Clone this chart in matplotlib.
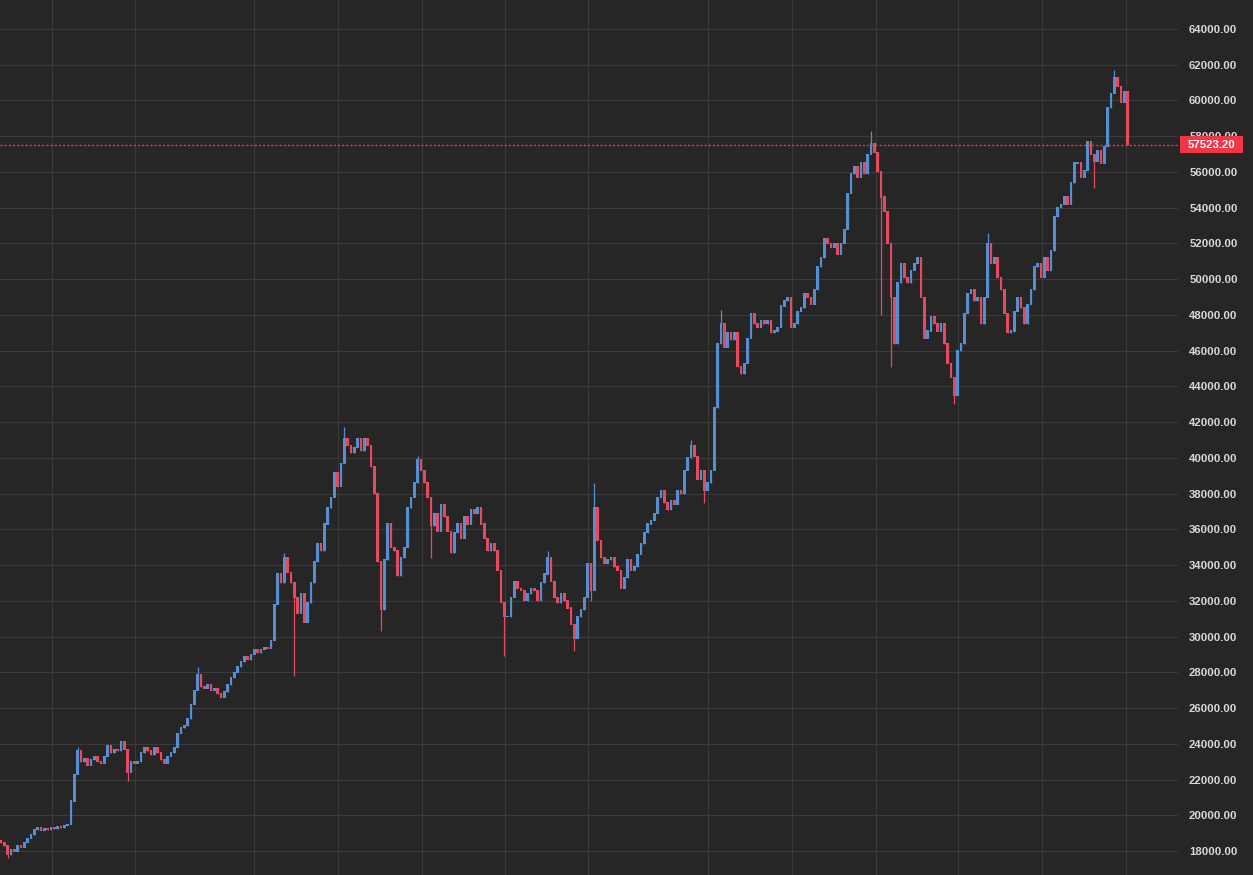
import numpy as np
import matplotlib.pyplot as plt
from matplotlib.patches import Rectangle
from matplotlib.transforms import blended_transform_factory

# closing prices, one per candle (open = previous close)
closes = [
    18450, 18300, 17800, 18100, 18000, 18300, 18200, 18500, 18700, 18900,
    19200, 19300, 19150, 19250, 19200, 19300, 19250, 19350, 19300, 19450,
    19500, 20800, 22300, 23600, 23000, 23200, 22800, 23100, 23300, 23000,
    22900, 23300, 23900, 23500, 23700, 23600, 24100, 23700, 22400, 23000,
    22900, 23000, 23500, 23800, 23600, 23400, 23800, 23500, 23100, 22900,
    23300, 23500, 23800, 24600, 24900, 25000, 25400, 26200, 27000, 27900,
    27200, 27100, 27300, 27000, 27100, 26800, 26600, 26900, 27300, 27700,
    28000, 28300, 28600, 28900, 28700, 29000, 29250, 29100, 29300, 29400,
    29350, 29800, 31800, 33500, 33000, 34400, 33600, 33000, 32200, 31300,
    32400, 30800, 31900, 33000, 34200, 35200, 34800, 36300, 37200, 37800,
    39200, 38400, 39700, 41100, 40700, 40300, 40600, 41100, 40400, 41100,
    40700, 39500, 38000, 34200, 31500, 34300, 36300, 35000, 34800, 33400,
    34400, 35000, 37200, 37800, 38600, 39900, 39300, 38600, 37800, 36200,
    36900, 35900, 37400, 36700, 35900, 34700, 35800, 36300, 35500, 36700,
    36300, 37100, 36900, 37200, 36300, 35500, 34800, 35200, 34800, 33700,
    31900, 31100, 31100, 32200, 33100, 32700, 32600, 32000, 32400, 32700,
    32600, 32000, 33000, 33500, 34400, 33100, 32200, 31900, 32400, 32000,
    31600, 30700, 29900, 31100, 31500, 32200, 34100, 32600, 37200, 35400,
    34400, 34100, 34300, 34400, 33900, 33700, 32700, 33300, 34300, 33700,
    33900, 34600, 35200, 35800, 36300, 36500, 36900, 37800, 38200, 37500,
    37100, 37600, 37400, 38200, 38000, 39300, 40000, 40700, 40100, 38800,
    39300, 38200, 38600, 39300, 42800, 46400, 47500, 46200, 47000, 46600,
    47000, 45100, 44700, 45300, 46700, 48100, 47500, 47300, 47700, 47500,
    47700, 47000, 47100, 47300, 48500, 48800, 49000, 47300, 47500, 48200,
    48400, 49200, 49000, 48600, 49400, 50700, 51200, 52300, 52000, 51800,
    52000, 51400, 52000, 52800, 54800, 55900, 56300, 55700, 56500, 55900,
    57000, 57600, 57100, 56000, 54600, 53800, 52000, 49000, 46400, 49800,
    50900, 50100, 49800, 50500, 50900, 51200, 49000, 46700, 47100, 47900,
    47500, 47100, 47500, 46400, 45300, 44500, 43500, 46000, 46400, 48100,
    49200, 49400, 48800, 49000, 47500, 49000, 52000, 50900, 51200, 50100,
    49400, 48100, 47000, 47100, 48200, 49000, 48400, 47500, 48600, 49400,
    50700, 50900, 50100, 51200, 50500, 51600, 53500, 54000, 54200, 54600,
    54200, 55400, 56500, 56500, 55700, 56100, 57700, 57000, 56600, 57200,
    56500, 57400, 59600, 60400, 61300, 60800, 59900, 60500, 57523.20,
]
first_open = 18600

# long wicks visible in the picture (candle index -> price)
spike_highs = {23: 23800, 59: 28300, 85: 34700, 103: 41700, 125: 40100,
               164: 34800, 178: 38600, 207: 41000, 216: 48300, 261: 58300,
               296: 52600, 334: 61700}
spike_lows = {2: 17600, 38: 21900, 88: 27800, 114: 30300, 129: 34400,
              151: 28900, 172: 29200, 177: 32000, 211: 37500, 264: 48000,
              267: 45100, 286: 43000, 328: 55100}

last_price = 57523.20
price_ticks = list(range(18000, 66000, 2000))
time_ticks = [15.3, 40.2, 75.9, 101.1, 126.3, 151.2, 176.1, 212.1, 237.3,
              262.5, 287.1, 312.3, 337.5]

bg = '#262626'
up_color = '#558fd2'
down_color = '#e64a5f'
label_red = '#f23645'

closes = np.array(closes, dtype=float)
opens = np.r_[first_open, closes[:-1]]
highs = np.maximum(opens, closes)
lows = np.minimum(opens, closes)
for i, v in spike_highs.items():
    highs[i] = max(highs[i], v)
for i, v in spike_lows.items():
    lows[i] = min(lows[i], v)

fig = plt.figure(figsize=(12.53, 8.75), dpi=100)
fig.patch.set_facecolor(bg)
ax = fig.add_axes([0, 0, 1178 / 1253, 1])
ax.set_facecolor(bg)

idx = np.arange(len(closes))
colors = np.where(closes >= opens, up_color, down_color)
ax.vlines(idx, lows, highs, colors=colors, lw=0.9, zorder=3)
ax.bar(idx, np.abs(closes - opens) + 60, bottom=np.minimum(opens, closes) - 30,
       width=0.85, color=colors, linewidth=0, zorder=3)

ax.set_xlim(-0.3, 353.1)
ax.set_ylim(16657, 65623)

ax.set_xticks(time_ticks)
ax.tick_params(axis='x', length=0, labelbottom=False)
ax.set_yticks(price_ticks)
ax.set_yticklabels([f'{v:.2f}' for v in price_ticks],
                   fontfamily='Liberation Sans', fontweight='bold')
ax.yaxis.tick_right()
ax.tick_params(axis='y', length=0, pad=8, labelcolor='#d8d8d8', labelsize=8.2)
ax.grid(True, color='#3a3a3a', lw=0.8)
ax.set_axisbelow(True)
for s in ax.spines.values():
    s.set_visible(False)

# last price line and label
ax.axhline(last_price, color=label_red, lw=1.0, ls=(0, (1.5, 1.5)), zorder=4)
trans = blended_transform_factory(ax.transAxes, ax.transData)
ax.add_patch(Rectangle((1180 / 1178, last_price - 475), 63 / 1178, 950,
                       transform=trans, clip_on=False, facecolor=label_red,
                       edgecolor='none', zorder=5))
ax.text(1211.5 / 1178, last_price, f'{last_price:.2f}', transform=trans,
        ha='center', va='center', color='white', fontsize=8.2,
        fontfamily='Liberation Sans', fontweight='bold', zorder=6, clip_on=False)

fig.savefig('out.png', dpi=100, facecolor=fig.get_facecolor())
